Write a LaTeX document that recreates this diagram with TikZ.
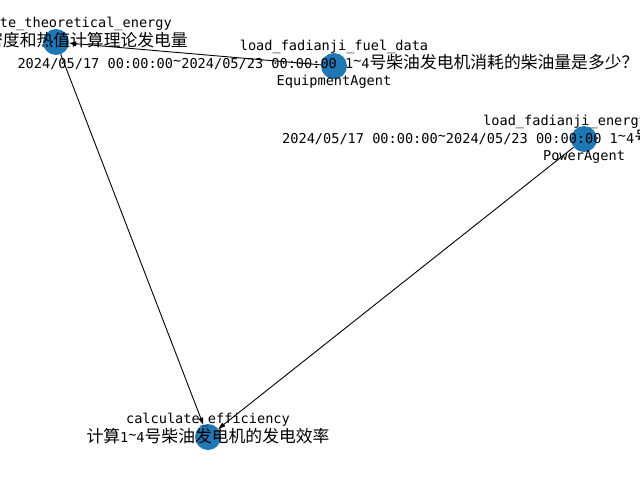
\documentclass[tikz,border=0pt]{standalone}
\usepackage{fontspec}
\setmonofont{DejaVu Sans Mono}
\newfontfamily\cjk{Noto Sans CJK SC}
\usetikzlibrary{arrows.meta}
\definecolor{tabblue}{HTML}{1F77B4}
\newcommand{\zh}[1]{{\cjk\fontsize{16.8}{18}\selectfont #1}}
\newcommand{\tld}{\raisebox{0.35ex}{\textasciitilde}}
\tikzset{
  agent/.style={circle,fill=tabblue,inner sep=0pt,minimum size=26pt},
  edge/.style={-{Triangle[length=7pt,width=4.5pt]},line width=0.9pt},
  lbl/.style={font=\ttfamily\fontsize{13.6}{18}\selectfont,inner sep=0pt,text height=10pt,text depth=3pt}
}

\begin{document}
\begin{tikzpicture}[x=1pt,y=-1pt]
  \clip (0,0) rectangle (640,480);
  \foreach \n/\x/\y in {theory/56/42, fuel/334/66, energy/584/139, eff/208/437}
    \node[agent] (\n) at (\x,\y) {};
  \draw[edge] (fuel) -- (theory);
  \draw[edge] (theory) -- (eff);
  \draw[edge] (energy) -- (eff);
  % labels
  \node[lbl,anchor=east] (theoryname) at (172,24) {te\_theoretical\_energy};
  \node[lbl,anchor=east] (theorytask) at (188,43) {\zh{密度和热值计算理论发电量}};
  \node[lbl] (fuelname) at (334,47) {load\_fadianji\_fuel\_data};
  \node[lbl] (fueltask) at (328,65) {2024/05/17 00:00:00\tld 2024/05/23 00:00:00 1\tld 4\zh{号柴油发电机消耗的柴油量是多少？}};
  \node[lbl] (fuelagent) at (334,82) {EquipmentAgent};
  \node[lbl,anchor=west] (energyname) at (483,122) {load\_fadianji\_energy};
  \node[lbl,anchor=west] (energytask) at (282,140) {2024/05/17 00:00:00\tld 2024/05/23 00:00:00 1\tld 4\zh{号}};
  \node[lbl] (energyagent) at (584,157) {PowerAgent};
  \node[lbl] (effname) at (208,420) {calculate\_efficiency};
  \node[lbl] (efftask) at (208,439) {\zh{计算}1\tld 4\zh{号柴油发电机的发电效率}};
\end{tikzpicture}
\end{document}
